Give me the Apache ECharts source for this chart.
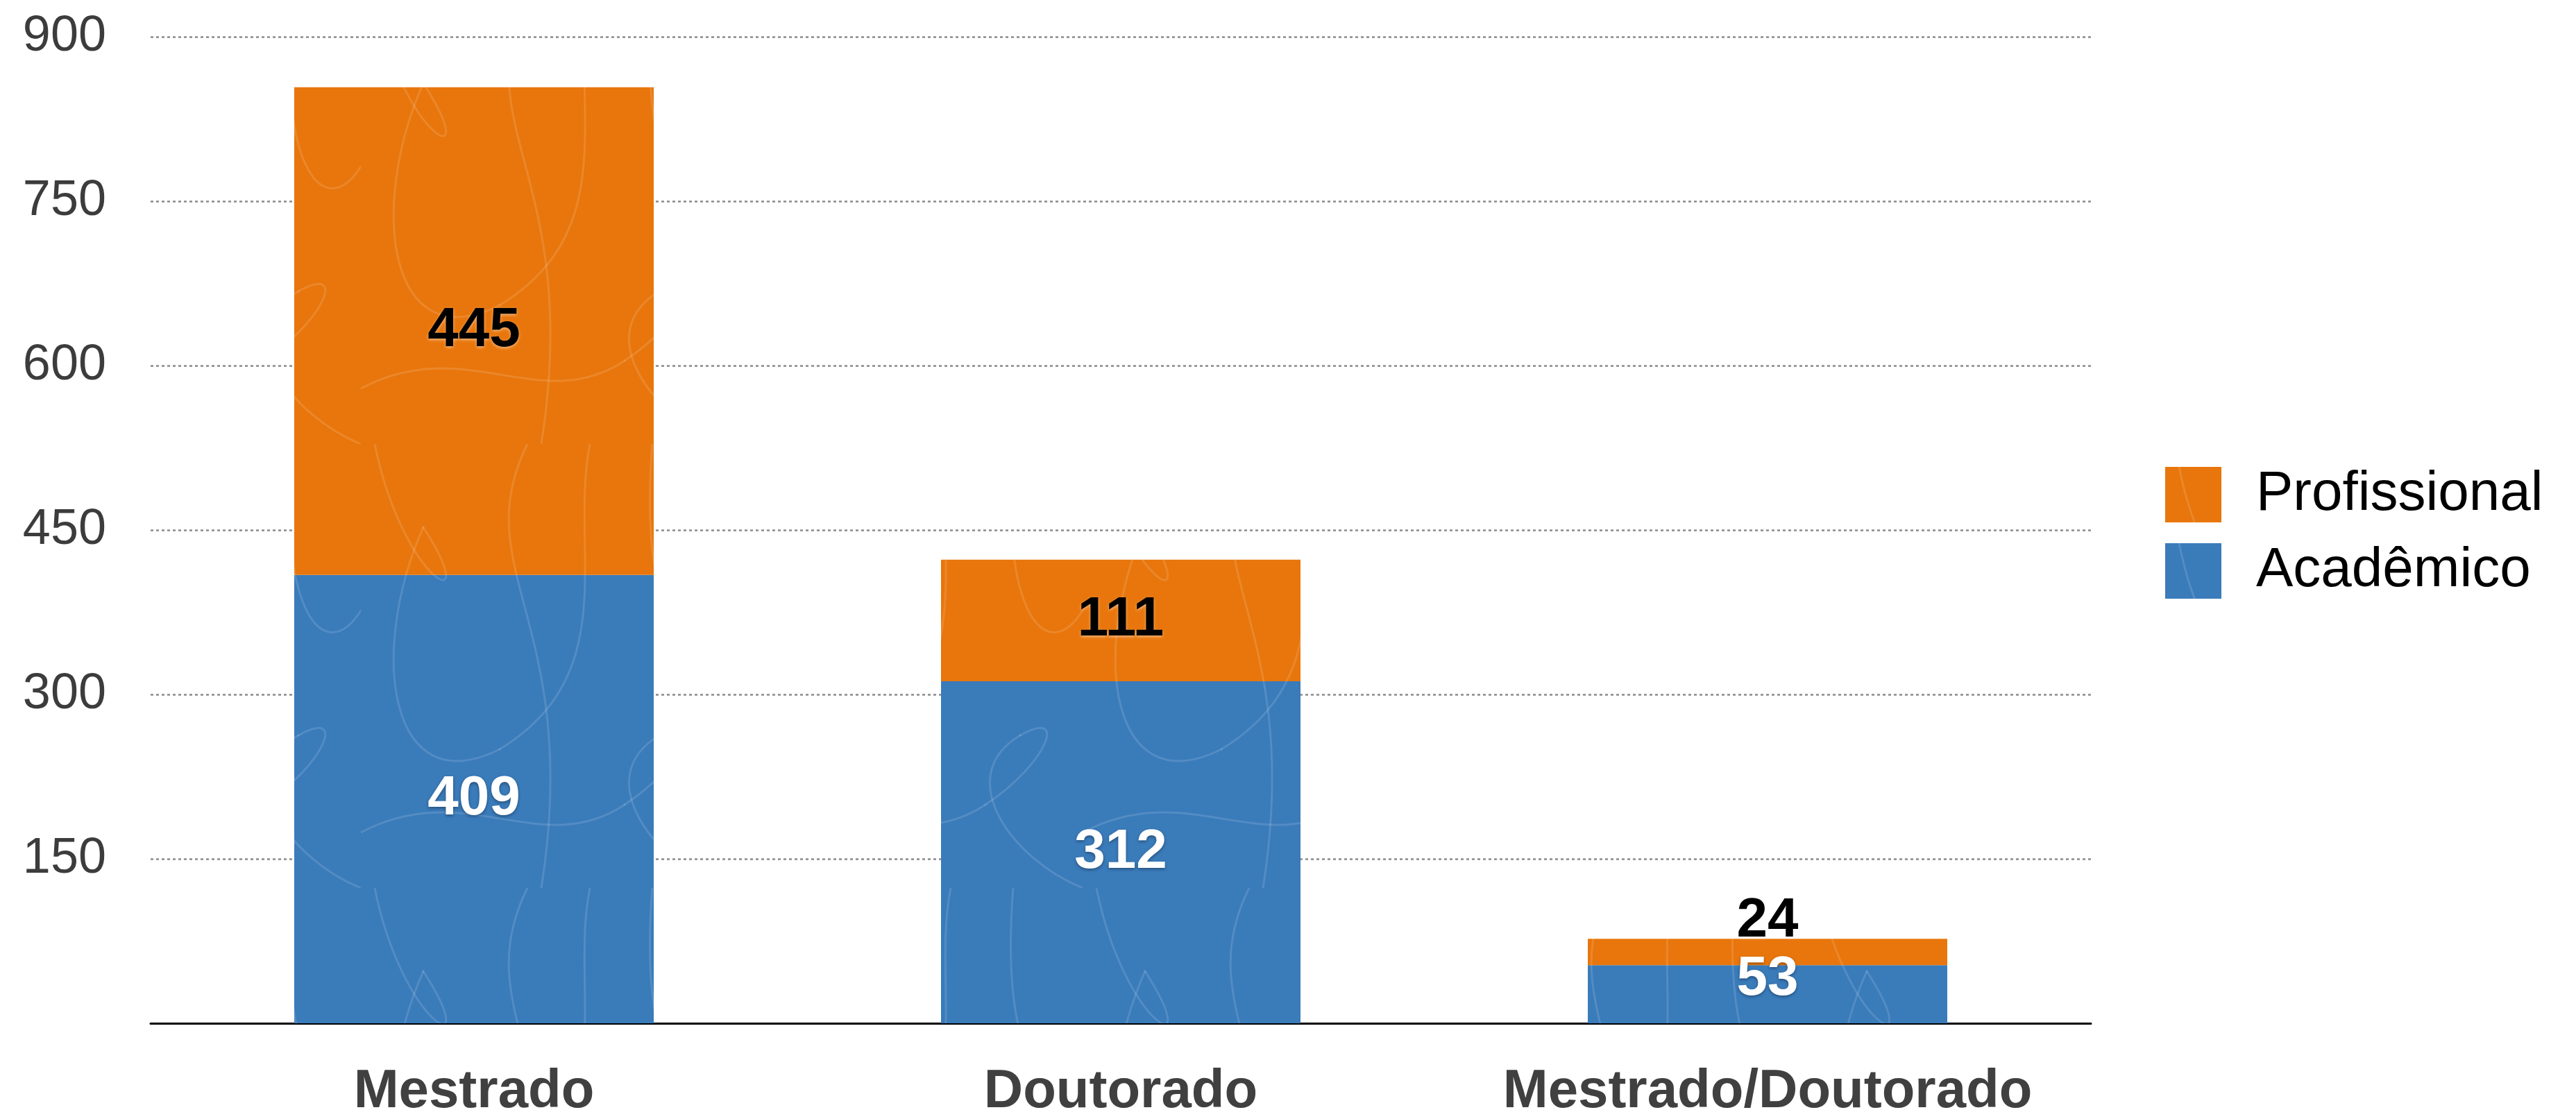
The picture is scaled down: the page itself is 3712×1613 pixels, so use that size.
<!DOCTYPE html>
<html>
<head>
<meta charset="utf-8">
<script src="https://cdn.jsdelivr.net/npm/echarts@6/dist/echarts.min.js"></script>
<style>
  html, body { margin: 0; padding: 0; background: #fff; }
  #chart { width: 3712px; height: 1613px; }
</style>
</head>
<body>
<div id="chart"></div>
<script>
// dados
const categories = ['Mestrado', 'Doutorado', 'Mestrado/Doutorado'];
const academico = [409, 312, 53];
const profissional = [445, 111, 24];
const yTicks = [0, 150, 300, 450, 600, 750, 900];

const FONT = '"Liberation Sans", Arial, sans-serif';

// textura de rabiscos por cima da cor
function scribble(base) {
  const c = document.createElement('canvas');
  c.width = 520; c.height = 640;
  const ctx = c.getContext('2d');
  ctx.fillStyle = base;
  ctx.fillRect(0, 0, c.width, c.height);
  ctx.strokeStyle = 'rgba(255,255,255,0.13)';
  ctx.lineWidth = 3;
  ctx.lineCap = 'round';
  const paths = [
    [[20, 0], [60, 200], [180, 260], [90, 120]],
    [[90, 120], [10, 300], [40, 520], [200, 440]],
    [[200, 440], [380, 330], [300, 150], [330, 0]],
    [[420, 0], [400, 250], [470, 320], [520, 240]],
    [[0, 560], [150, 480], [260, 600], [380, 520]],
    [[380, 520], [470, 460], [500, 380], [430, 420]],
    [[430, 420], [330, 480], [420, 600], [520, 640]],
    [[240, 0], [150, 180], [320, 260], [260, 640]]
  ];
  paths.forEach(p => {
    ctx.beginPath();
    ctx.moveTo(p[0][0], p[0][1]);
    ctx.bezierCurveTo(p[1][0], p[1][1], p[2][0], p[2][1], p[3][0], p[3][1]);
    ctx.stroke();
  });
  return { image: c, repeat: 'repeat' };
}

const ORANGE = '#E8760C';
const BLUE = '#3A7BBA';

// rótulos que não cabem no segmento sobem um pouco
const acadOffset = [0, 0, -21];
const profOffset = [0, 0, -44];

const chart = echarts.init(document.getElementById('chart'));

chart.setOption({
  animation: false,
  backgroundColor: '#fff',
  grid: { left: 217, right: 699, top: 53, bottom: 136, containLabel: false },
  legend: {
    orient: 'vertical',
    left: 3115,
    top: 668,
    data: ['Profissional', 'Acadêmico'],
    itemWidth: 81,
    itemHeight: 80,
    itemGap: 30,
    icon: 'rect',
    textStyle: { fontFamily: FONT, fontSize: 80, color: '#000', padding: [0, 0, 0, 45] }
  },
  xAxis: {
    type: 'category',
    data: categories,
    axisTick: { show: false },
    axisLine: { lineStyle: { color: '#000', width: 3 } },
    axisLabel: { interval: 0, margin: 60, fontFamily: FONT, fontSize: 78, fontWeight: 'bold', color: '#404040' }
  },
  yAxis: {
    type: 'value',
    min: yTicks[0],
    max: yTicks[yTicks.length - 1],
    interval: yTicks[1] - yTicks[0],
    axisLine: { show: false },
    axisTick: { show: false },
    splitLine: { lineStyle: { color: '#8a8a8a', width: 2.5, type: [4, 4] } },
    axisLabel: {
      margin: 64,
      fontFamily: FONT,
      fontSize: 72,
      color: '#3c3c3c',
      formatter: v => (v === 0 ? '' : String(v))
    }
  },
  series: [
    {
      name: 'Acadêmico',
      type: 'bar',
      stack: 'total',
      barWidth: 518,
      itemStyle: { color: scribble(BLUE) },
      data: academico.map((v, i) => ({ value: v, label: { offset: [0, acadOffset[i]] } })),
      label: {
        show: true,
        position: 'inside',
        fontFamily: FONT,
        fontSize: 80,
        fontWeight: 'bold',
        color: '#fff',
        textShadowColor: 'rgba(0,0,0,0.35)',
        textShadowBlur: 4,
        textShadowOffsetY: 2
      }
    },
    {
      name: 'Profissional',
      type: 'bar',
      stack: 'total',
      barWidth: 518,
      itemStyle: { color: scribble(ORANGE) },
      data: profissional.map((v, i) => ({ value: v, label: { offset: [0, profOffset[i]] } })),
      label: {
        show: true,
        position: 'inside',
        fontFamily: FONT,
        fontSize: 80,
        fontWeight: 'bold',
        color: '#000',
        textShadowColor: 'rgba(255,255,255,0.45)',
        textShadowBlur: 4,
        textShadowOffsetY: 2
      }
    }
  ]
});
</script>
</body>
</html>
